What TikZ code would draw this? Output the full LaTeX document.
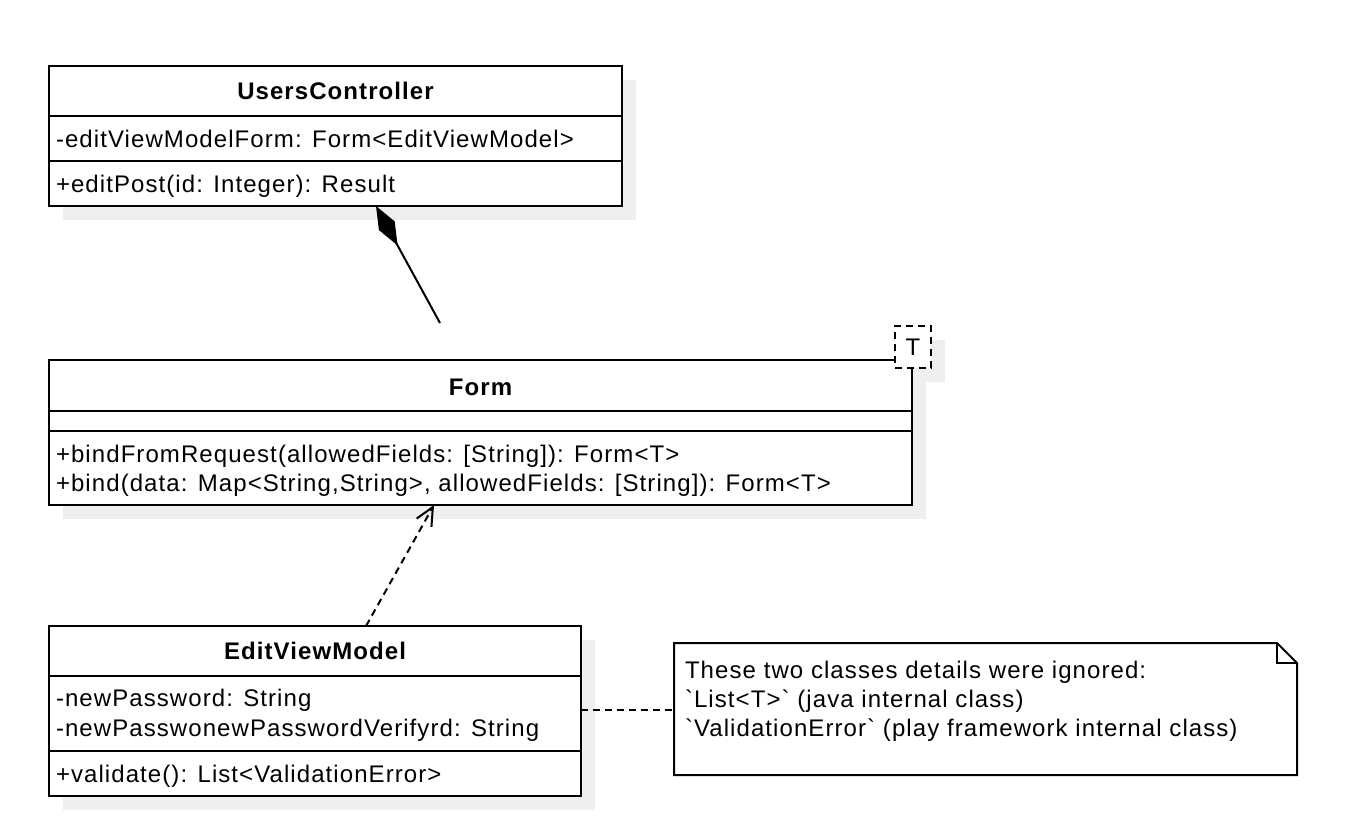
\documentclass[tikz,border=0pt]{standalone}
\usepackage{fontspec}
\setmainfont{Liberation Sans}[LetterSpace=4.5, Ligatures=TeXOff]
\usetikzlibrary{arrows.meta}
\definecolor{shadowc}{HTML}{EFEFEF}
\begin{document}
\begin{tikzpicture}[x=1pt,y=-1pt,
  every node/.style={inner sep=0pt, outer sep=0pt},
  txt/.style={font=\fontsize{24}{28}\selectfont, anchor=base west},
  ttl/.style={font=\fontsize{24}{28}\selectfont\bfseries, anchor=base},
  cls/.style={draw, line width=2pt, fill=white, anchor=north west},
  sep/.style={line width=2pt},
  shd/.style={fill=shadowc},
  dashln/.style={line width=2pt, dash pattern=on 7pt off 5pt},
]
\useasboundingbox (0,0) rectangle (1348,830);

% shadows
\fill[shd] (63,80) rectangle (636,220);
\fill[shd] (63,374) rectangle (926,519);
\fill[shd] (909,340) rectangle (945,382);
\fill[shd] (63,640) rectangle (595,810);

% UsersController
\node[cls, minimum width=573pt, minimum height=140pt] (uc) at (49,66) {};
\draw[sep] (uc.west |- 0,116) -- (uc.east |- 0,116);
\draw[sep] (uc.west |- 0,161) -- (uc.east |- 0,161);
\node[ttl] (uct) at (335.5,99.5) {UsersController};
\node[txt] (uca) at (56,147) {-editViewModelForm: Form<EditViewModel>};
\node[txt] (ucm) at (56,192) {+editPost(id: Integer): Result};

% Form
\node[cls, minimum width=863pt, minimum height=145pt] (form) at (49,360) {};
\draw[sep] (form.west |- 0,411) -- (form.east |- 0,411);
\draw[sep] (form.west |- 0,431) -- (form.east |- 0,431);
\node[ttl] (formt) at (480.5,395) {Form};
\node[txt] (formm1) at (56,462) {+bindFromRequest(allowedFields: [String]): Form<T>};
\node[txt] (formm2) at (56,491) {+bind(data: Map<String,String>, allowedFields: [String]): Form<T>};
\node[draw, dashln, fill=white, anchor=north west, minimum width=36pt, minimum height=42pt] (tp) at (895,326) {};
\node[font=\fontsize{24}{28}\selectfont] (tpt) at (tp.center) {T};

% EditViewModel
\node[cls, minimum width=532pt, minimum height=170pt] (evm) at (49,626) {};
\draw[sep] (evm.west |- 0,676) -- (evm.east |- 0,676);
\draw[sep] (evm.west |- 0,751) -- (evm.east |- 0,751);
\node[ttl] (evmt) at (315,659.5) {EditViewModel};
\node[txt] (evma1) at (56,706) {-newPassword: String};
\node[txt] (evma2) at (56,736) {-newPasswonewPasswordVerifyrd: String};
\node[txt] (evmm) at (56,782) {+validate(): List<ValidationError>};

% Note
\node[anchor=north west, minimum width=623pt, minimum height=132pt] (note) at (674,643) {};
\draw[line width=2pt, fill=white] (note.north west) -- ([xshift=-20pt]note.north east) -- ([yshift=-20pt]note.north east) -- (note.south east) -- (note.south west) -- cycle;
\draw[line width=2pt] ([xshift=-20pt]note.north east) -- ([xshift=-20pt,yshift=-20pt]note.north east) -- ([yshift=-20pt]note.north east);
\node[txt] (n1) at (685,678) {These two classes details were ignored:};
\node[txt] (n2) at (685,707) {`List<T>` (java internal class)};
\node[txt] (n3) at (685,736) {`ValidationError` (play framework internal class)};

% connectors
\coordinate (fc) at (440,323);
\draw[line width=2pt, -{Diamond[length=45pt,width=18pt,fill=black]}] (fc) -- (uc.south -| 376,0);
\draw[dashln, -{Straight Barb[length=18pt,width=17pt]}] (evm.north -| 366,0) -- (form.south -| 434,0);
\draw[dashln] (evm.east |- 0,710) -- (note.west |- 0,710);
\end{tikzpicture}
\end{document}
